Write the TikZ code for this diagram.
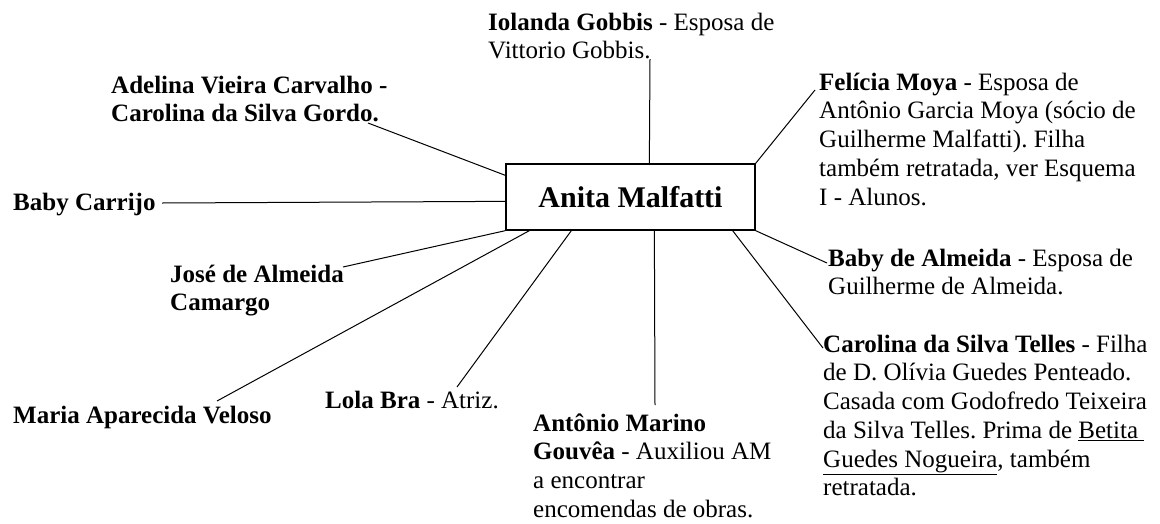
\documentclass[tikz,border=0pt]{standalone}
\usepackage{fontspec}
\setmainfont{Liberation Serif}
\frenchspacing
\begin{document}
\begin{tikzpicture}[x=1pt,y=-1pt,
  lbl/.style={anchor=north west,inner sep=0pt,align=left,font=\fontsize{25}{28.75}\selectfont},
  centre/.style={draw,line width=1.3pt,minimum width=249pt,minimum height=66pt,inner sep=0pt,font=\fontsize{30}{34}\selectfont\bfseries},
  link/.style={line width=1pt}]
\useasboundingbox (0,0) rectangle (1160,523);
\fill[white] (0,0) rectangle (1160,523);
% central box
\node[centre] (box) at (630.5,197) {Anita Malfatti};
% labels
\node[lbl] (iol) at (488,9.9) {\strut\textbf{Iolanda Gobbis} - Esposa de\\Vittorio Gobbis.};
\node[lbl] (ade) at (111,72.9) {\strut\textbf{Adelina Vieira Carvalho -}\\\textbf{Carolina da Silva Gordo.}};
\node[lbl] (bca) at (13,189.9) {\strut\textbf{Baby Carrijo}};
\node[lbl] (fel) at (819,69.9) {\strut\textbf{Felícia Moya} - Esposa de\\Antônio Garcia Moya (sócio de\\Guilherme Malfatti). Filha\\também retratada, ver Esquema\\I - Alunos.};
\node[lbl] (bal) at (828,245.9) {\strut\textbf{Baby de Almeida} - Esposa de\\Guilherme de Almeida.};
\node[lbl] (cst) at (823,331.9) {\strut\textbf{Carolina da Silva Telles} - Filha\\de D. Olívia Guedes Penteado.\\Casada com Godofredo Teixeira\\da Silva Telles. Prima de \underline{Betita\ }\\\underline{Guedes Nogueira}, também\\retratada.};
\node[lbl] (amg) at (533,410.9) {\strut\textbf{Antônio Marino}\\\textbf{Gouvêa} - Auxiliou AM\\a encontrar\\encomendas de obras.};
\node[lbl] (lol) at (325,387.9) {\strut\textbf{Lola Bra} - Atriz.};
\node[lbl] (jos) at (170,261.9) {\strut\textbf{José de Almeida}\\\textbf{Camargo}};
\node[lbl] (mar) at (13,402.9) {\strut\textbf{Maria Aparecida Veloso}};
% free ends of connectors
\coordinate (ci) at (650,59);
\coordinate (ca) at (368,123);
\coordinate (cb) at (162,203);
\coordinate (cf) at (815,90);
\coordinate (cj) at (343,267);
\coordinate (cm) at (217,401);
\coordinate (cl) at (457,387);
\coordinate (cn) at (655,405);
\coordinate (cc) at (823,348);
\coordinate (cd) at (827,263);
% connectors
\draw[link] ([xshift=144pt]box.north west) -- (ci);
\draw[link] ([yshift=-12pt]box.north west) -- (ca);
\draw[link] ([yshift=-38pt]box.north west) -- (cb);
\draw[link] (box.north east) -- (cf);
\draw[link] (box.south west) -- (cj);
\draw[link] ([xshift=24pt]box.south west) -- (cm);
\draw[link] ([xshift=66pt]box.south west) -- (cl);
\draw[link] ([xshift=149pt]box.south west) -- (cn);
\draw[link] ([xshift=-23pt]box.south east) -- (cc);
\draw[link] (box.south east) -- (cd);
\end{tikzpicture}
\end{document}
